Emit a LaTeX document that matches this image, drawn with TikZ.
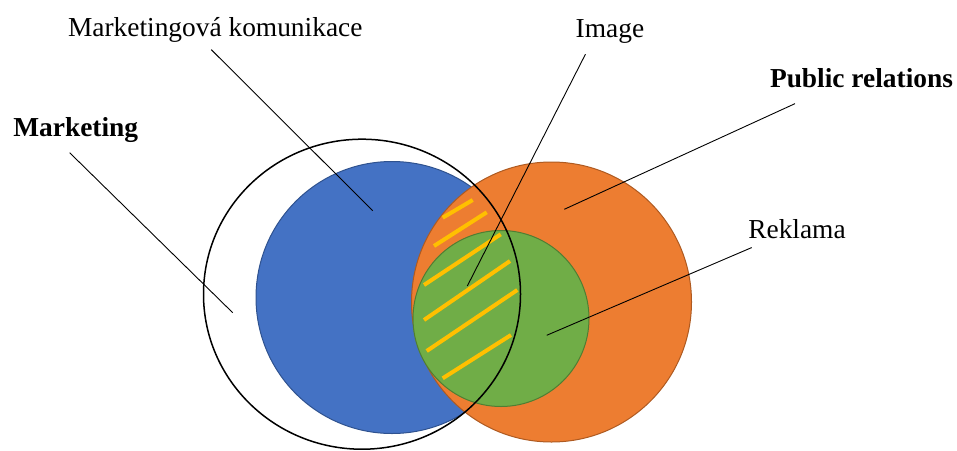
\documentclass[tikz,border=0pt]{standalone}
\usepackage{fontspec}
\setmainfont{Liberation Serif}
\usepackage{xcolor}
\usetikzlibrary{shapes.geometric,positioning}

\definecolor{mkblue}{HTML}{4472C4}
\definecolor{mkblueline}{HTML}{2F528F}
\definecolor{prorange}{HTML}{ED7D31}
\definecolor{prorangeline}{HTML}{AE5A21}
\definecolor{rkgreen}{HTML}{70AD47}
\definecolor{rkgreenline}{HTML}{507E32}
\definecolor{imgyellow}{HTML}{FFC000}

\begin{document}
\begin{tikzpicture}[
    x=1pt, y=-1pt,
    every node/.style={inner sep=0pt, outer sep=0pt},
    setcircle/.style={circle, line width=1pt},
    lbl/.style={anchor=base west, font=\fontsize{27.4}{32}\selectfont},
    boldlbl/.style={lbl, font=\fontsize{27.4}{32}\selectfont\bfseries},
    leader/.style={line width=0.9pt},
    stripe/.style={draw=imgyellow, line width=4pt}
]
    \useasboundingbox (0,0) rectangle (957,450);

    % sets
    \node[setcircle, fill=mkblue, draw=mkblueline, minimum size=272pt] (komunikace) at (392,297.5) {};
    \node[setcircle, fill=prorange, draw=prorangeline, minimum size=280pt] (pr) at (551.5,302) {};
    \node[setcircle, fill=rkgreen, draw=rkgreenline, minimum size=176pt] (reklama) at (501,318.5) {};

    % image stripes
    \draw[stripe] (442.7,217.7) -- (472.7,200);
    \draw[stripe] (434,246) -- (486.7,212.3);
    \draw[stripe] (424,285) -- (500.7,234.3);
    \draw[stripe] (424,320) -- (510,261);
    \draw[stripe] (426.7,351) -- (517.3,290);
    \draw[stripe] (442.7,378.3) -- (511,335);

    \node[ellipse, draw=black, line width=1.5pt, minimum width=317pt, minimum height=310pt] (marketing) at (362,294.2) {};

    % labels
    \node[lbl] (tmk) at (68,36.7) {Marketingová komunikace};
    \node[boldlbl] (tmarketing) at (13.3,136.7) {Marketing};
    \node[lbl] (timage) at (575.7,37.3) {Image};
    \node[boldlbl] (tpr) at (770,87.3) {Public relations};
    \node[lbl] (treklama) at (748.3,238.3) {Reklama};

    % leader ends
    \coordinate (mkend) at (372.7,210.7);
    \coordinate (marketingend) at (232.7,312.7);
    \coordinate (imageend) at (467.3,286);
    \coordinate (prend) at (564.3,209.3);
    \coordinate (reklamaend) at (546.7,335.3);

    \draw[leader] ([xshift=-4pt,yshift=-7pt]tmk.south) -- (mkend);
    \draw[leader] ([xshift=-6pt,yshift=-10pt]tmarketing.south) -- (marketingend);
    \draw[leader] ([xshift=-24.5pt,yshift=-11pt]timage.south) -- (imageend);
    \draw[leader] ([xshift=25pt,yshift=-16pt]tpr.south west) -- (prend);
    \draw[leader] ([xshift=3.4pt,yshift=-9pt]treklama.south west) -- (reklamaend);
\end{tikzpicture}
\end{document}
